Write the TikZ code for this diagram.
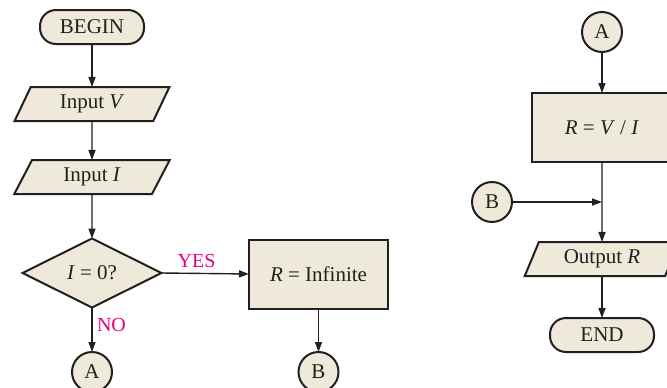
\documentclass[tikz,border=0pt]{standalone}
\usepackage{fontspec}
\setmainfont{Liberation Serif}
\usetikzlibrary{shapes.geometric,arrows.meta}
\definecolor{boxfill}{RGB}{238,233,216}
\definecolor{ink}{RGB}{35,31,32}
\definecolor{lbl}{RGB}{230,0,126}
\begin{document}
\begin{tikzpicture}[x=1pt,y=-1pt,
  every node/.style={font=\fontsize{21}{24}\selectfont, text=ink},
  shp/.style={draw=ink, fill=boxfill, line width=2pt, inner sep=0pt, outer sep=0pt},
  pill/.style={shp, rounded corners=16pt, minimum width=104pt, minimum height=34pt},
  io/.style={shp, trapezium, trapezium left angle=65, trapezium right angle=115,
    trapezium stretches=true, minimum width=156pt, minimum height=34pt},
  proc/.style={shp, rectangle, minimum width=139pt, minimum height=69pt},
  decide/.style={shp, diamond, aspect=2, minimum width=139pt, minimum height=69pt},
  conn/.style={shp, circle, minimum size=40pt},
  flow/.style={draw=ink, line width=1.4pt, -{Triangle[length=10pt,width=7pt]}},
  yn/.style={text=lbl, font=\fontsize{20}{24}\selectfont}
]
\useasboundingbox (0,0) rectangle (667,388);
\clip (0,0) rectangle (667,388);

% left column
\node[pill] (begin) at (92,27) {BEGIN};
\node[io] (inV) at (92,104) {Input \textit{V}};
\node[io] (inI) at (92,177) {Input \textit{I}};
\node[decide] (dec) at (92,273) {\textit{I} = 0?};
\node[proc] (rinf) at (318.5,274) {\textit{R} = Infinite};
\node[conn] (A1) at (92,372) {A};
\node[conn] (B1) at (318.5,372) {B};

\draw[flow] (begin) -- (inV);
\draw[flow] (inV) -- (inI);
\draw[flow] (inI) -- (dec);
\draw[flow] (dec.east) -- node[yn, pos=0.4, above=2pt] {YES} (rinf.west);
\draw[flow] (dec.south) -- node[yn, pos=0.4, right=1pt] {NO} (A1.north);
\draw[flow] (rinf) -- (B1);

% right column
\node[conn] (A2) at (602,32) {A};
\node[proc, minimum width=140pt] (rvi) at (602,127.5) {\textit{R} = \textit{V} / \textit{I}};
\node[conn] (B2) at (492,202) {B};
\coordinate (join) at (602,202);
\node[io] (outR) at (602,259) {Output \textit{R}};
\node[pill] (stop) at (602,335) {END};

\draw[flow] (A2) -- (rvi);
\draw[flow] (rvi) -- (outR);
\draw[flow] (B2) -- (join);
\draw[flow] (outR) -- (stop);
\end{tikzpicture}
\end{document}
